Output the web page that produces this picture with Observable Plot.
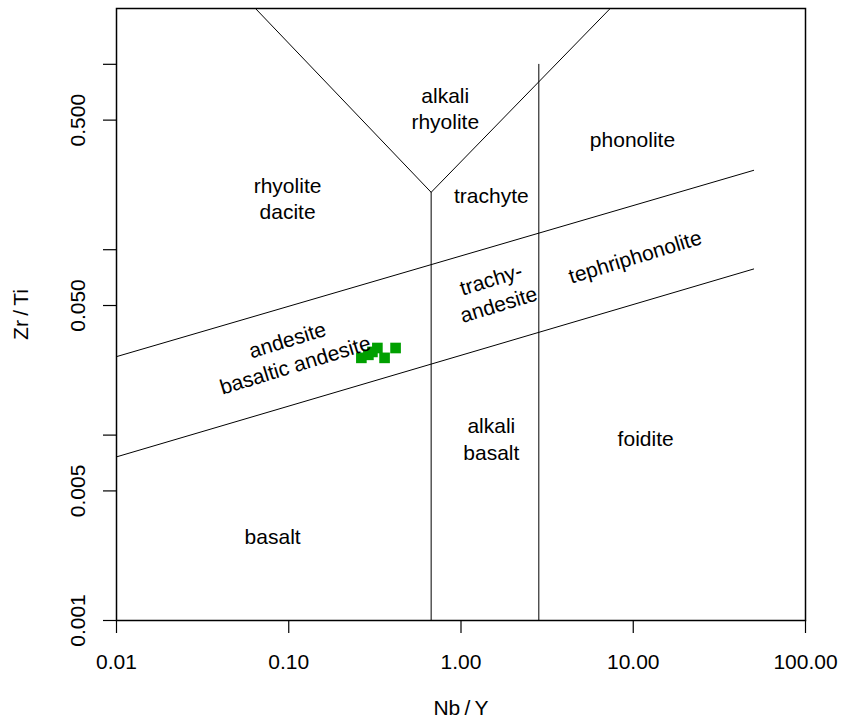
<!DOCTYPE html>
<html>
<head>
<meta charset="utf-8">
<script src="https://cdn.jsdelivr.net/npm/d3@7"></script>
<script src="https://cdn.jsdelivr.net/npm/@observablehq/plot@0.6"></script>
<style>
  html, body { margin: 0; padding: 0; background: #fff; }
  #chart svg { display: block; font-family: "Liberation Sans", Arial, sans-serif; }
</style>
</head>
<body>
<div id="chart"></div>
<script>
// Samples (Nb/Y, Zr/Ti)
const sampleNbY  = [0.264, 0.290, 0.306, 0.327, 0.360, 0.417];
const sampleZrTi = [0.0261, 0.0271, 0.0281, 0.0295, 0.0261, 0.0295];

// Field boundaries (Pearce 1996 style)
const upperLineX = [0.01, 50];
const upperLineY = [0.0265, 0.268];
const lowerLineX = [0.01, 50];
const lowerLineY = [0.00763, 0.0787];
const leftVertX  = [0.671, 0.671];
const leftVertY  = [0.001, 0.204];
const rightVertX = [2.83, 2.83];
const rightVertY = [0.001, 1.0];
const vShapeX    = [0.0641, 0.671, 7.35];
const vShapeY    = [2.0, 0.204, 2.0];

// Field labels
const fieldNames = ["alkali\nrhyolite", "phonolite", "rhyolite\ndacite", "trachyte", "trachy-\nandesite",
                    "tephriphonolite", "andesite\nbasaltic andesite", "alkali\nbasalt", "foidite", "basalt"];
const fieldX     = [0.81, 9.9, 0.0984, 1.50, 1.565, 10.2, 0.103, 1.50, 11.8, 0.0806];
const fieldY     = [0.586, 0.398, 0.191, 0.198, 0.0600, 0.0929, 0.0283, 0.00964, 0.00964, 0.00288];
const fieldAngle = [0, 0, 0, 0, -17, -17, -17, 0, 0, 0];

// Axes
const xTicks = [0.01, 0.1, 1, 10, 100];
const yTicks = [0.001, 0.005, 0.01, 0.05, 0.1, 0.5, 1];
const yTickLabels = [0.001, 0.005, 0.05, 0.5];
const xTitle = "Nb\u2009/\u2009Y";
const yTitle = "Zr\u2009/\u2009Ti";

const toPts = (xs, ys, id) => xs.map((x, i) => ({x, y: ys[i], id}));
const lines = [
  ...toPts(upperLineX, upperLineY, "upper"),
  ...toPts(lowerLineX, lowerLineY, "lower"),
  ...toPts(leftVertX, leftVertY, "leftv"),
  ...toPts(rightVertX, rightVertY, "rightv"),
  ...toPts(vShapeX, vShapeY, "vshape")
];
const samples = sampleNbY.map((x, i) => ({x, y: sampleZrTi[i]}));
const fields = fieldNames.map((t, i) => ({t, x: fieldX[i], y: fieldY[i], a: fieldAngle[i]}));

const FS = 21;
const chart = Plot.plot({
  width: 841,
  height: 722,
  marginLeft: 116,
  marginRight: 36,
  marginTop: 8,
  marginBottom: 102,
  style: {fontFamily: "'Liberation Sans', Arial, sans-serif", background: "#fff", color: "#000"},
  x: {type: "log", domain: [0.01, 100]},
  y: {type: "log", domain: [0.001, 2.0]},
  marks: [
    Plot.line(lines, {x: "x", y: "y", z: "id", stroke: "#000", strokeWidth: 1, clip: true}),
    Plot.dot(samples, {x: "x", y: "y", symbol: "square", r: 6, fill: "#00a000", stroke: "none"}),
    Plot.text(fields, {x: "x", y: "y", text: "t", rotate: "a", fontSize: FS, lineHeight: 1.25, fill: "#000"}),
    Plot.frame({stroke: "#000", strokeWidth: 1.5}),
    Plot.axisX({ticks: xTicks, tickFormat: d => d.toFixed(2), tickSize: 13, tickPadding: 21,
                fontSize: FS, label: null, stroke: "#000", strokeWidth: 1.2, fill: "#000"}),
    Plot.axisY({ticks: yTicks, tickFormat: () => "", tickSize: 13, label: null, stroke: "#000", strokeWidth: 1.2}),
    Plot.text(yTickLabels, {y: d => d, text: d => d.toFixed(3), frameAnchor: "left", dx: -38,
                            textAnchor: "middle", rotate: -90, fontSize: FS, fill: "#000"}),
    Plot.text([xTitle], {text: d => d, frameAnchor: "bottom", dy: 94, textAnchor: "middle", fontSize: FS, fill: "#000"}),
    Plot.text([yTitle], {text: d => d, frameAnchor: "left", dx: -95, textAnchor: "middle", rotate: -90, fontSize: FS, fill: "#000"})
  ]
});
document.getElementById("chart").appendChild(chart);
</script>
</body>
</html>
